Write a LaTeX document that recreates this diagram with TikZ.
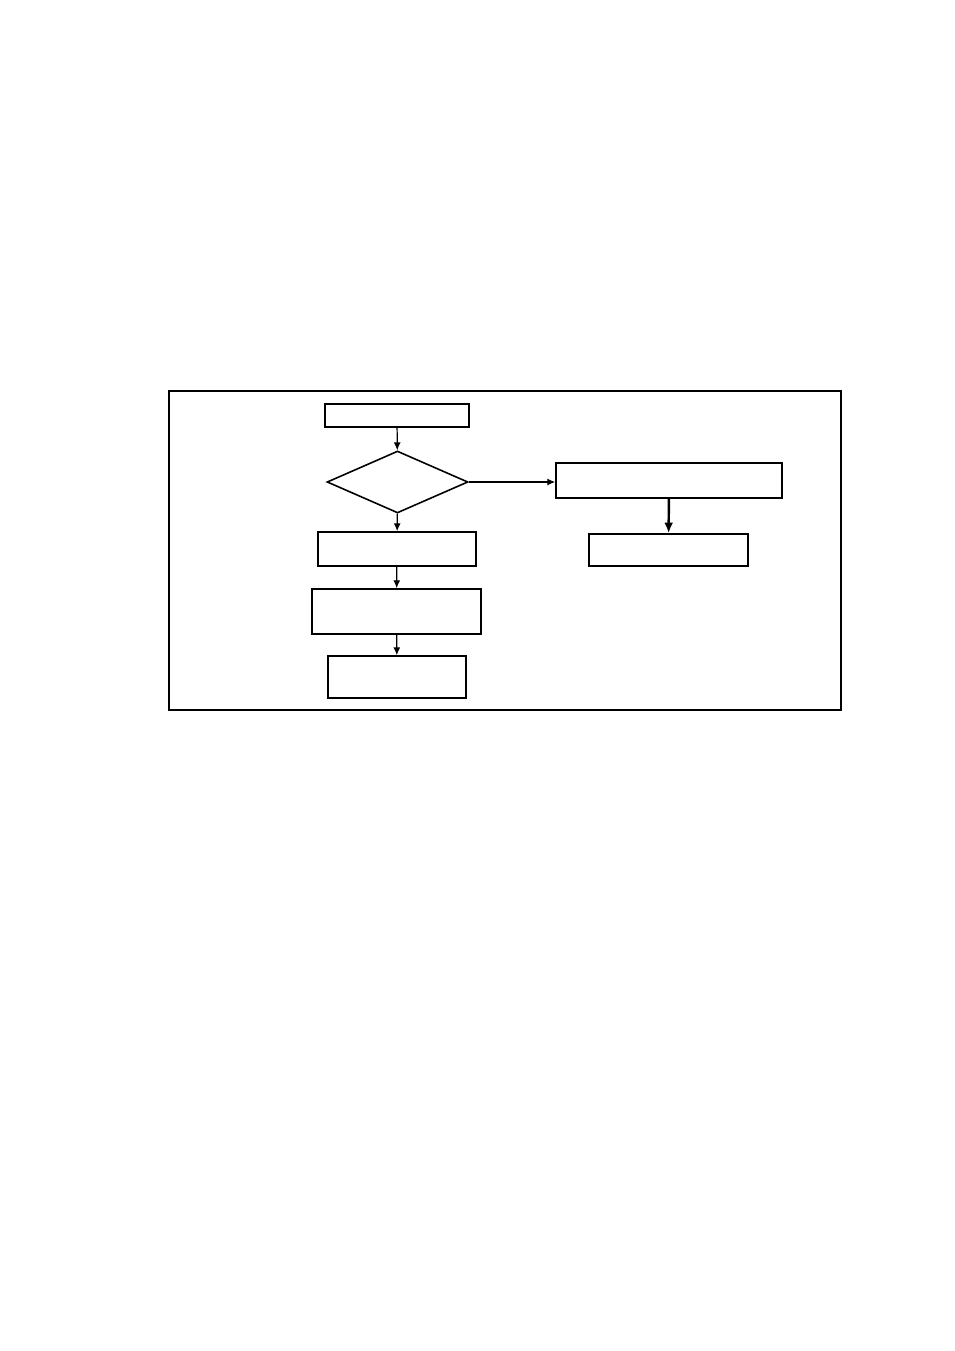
\documentclass[tikz,border=0pt]{standalone}
\usetikzlibrary{shapes.geometric,arrows.meta}
\begin{document}
\begin{tikzpicture}[x=0.02cm,y=-0.02cm,>={Latex[length=4.5pt,width=4pt]}]
    \useasboundingbox (0,0) rectangle (954,1351);
    \draw[line width=1pt] (169,391) rectangle (841,710);

    \begin{scope}[every node/.style={rectangle,draw,line width=0.9pt,inner sep=0pt}]
        \node[minimum width=2.88cm, minimum height=0.46cm] (S) at (397,415.5) {};
        \node[diamond, minimum width=2.82cm, minimum height=1.24cm] (D) at (397.5,482) {};
        \node[minimum width=3.16cm, minimum height=0.68cm] (B) at (397,549) {};
        \node[minimum width=3.38cm, minimum height=0.90cm] (C) at (396.5,611.5) {};
        \node[minimum width=2.76cm, minimum height=0.84cm] (E) at (397,677) {};
        \node[minimum width=4.52cm, minimum height=0.70cm] (R) at (669,480.5) {};
        \node[minimum width=3.18cm, minimum height=0.64cm] (Q) at (668.5,550) {};
    \end{scope}
    \begin{scope}[every path/.style={->,line width=0.7pt}]
        \path (S) edge (D);
        \path (D) edge (B);
        \path (B) edge (C);
        \path (C) edge (E);
        \path (D.east) edge (D.east -| R.west);
        \path (R) edge[line width=1.4pt, -{Latex[length=6pt,width=5pt]}] (Q);
    \end{scope}
\end{tikzpicture}
\end{document}
